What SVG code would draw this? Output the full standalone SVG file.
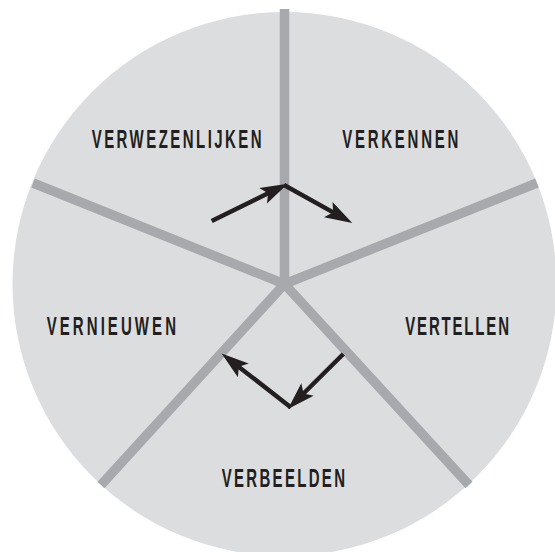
<svg xmlns="http://www.w3.org/2000/svg" width="555" height="552" viewBox="0 0 555 552">
<defs>
<style>
.spoke{stroke:#a7a9ac;stroke-width:9.5;fill:none;stroke-linecap:butt}
.arrow{stroke:#231f20;stroke-width:4.5;fill:none;stroke-linecap:butt;marker-end:url(#ah)}
.lbl{font-family:"Liberation Sans",Arial,sans-serif;font-weight:bold;font-size:25px;fill:#231f20}
</style>
<marker id="ah" markerUnits="userSpaceOnUse" markerWidth="30" markerHeight="20" viewBox="-2 -8 22 16" refX="0" refY="0" orient="auto" overflow="visible">
<path d="M13,0 L-9,-7 L-4.5,0 L-9,7 Z" fill="#231f20"/>
</marker>
</defs>
<rect width="555" height="552" fill="#ffffff"/>
<circle cx="284.5" cy="284" r="272" fill="#dcdddf"/>
<g id="connectors">
<g id="spokes">
<line class="spoke" x1="284.5" y1="284" x2="284.5" y2="9"/>
<line class="spoke" x1="284.5" y1="284" x2="33" y2="183"/>
<line class="spoke" x1="284.5" y1="284" x2="537" y2="183"/>
<line class="spoke" x1="284.5" y1="284" x2="101" y2="485"/>
<line class="spoke" x1="284.5" y1="284" x2="469" y2="485"/>
</g>
<g id="arrows">
<line class="arrow" x1="211.7" y1="221" x2="273.2" y2="190.8"/>
<line class="arrow" x1="284" y1="185" x2="338.1" y2="215.1"/>
<line class="arrow" x1="343.3" y1="354" x2="299.5" y2="397.5"/>
<line class="arrow" x1="291" y1="407.5" x2="234.4" y2="363.4"/>
</g>
</g>
<g transform="scale(0.6,1)">
<g id="verwezenlijken"><text class="lbl" x="152.8" y="147.8" textLength="283.3" lengthAdjust="spacing">VERWEZENLIJKEN</text></g>
<g id="verkennen"><text class="lbl" x="570.5" y="147.8" textLength="193.3" lengthAdjust="spacing">VERKENNEN</text></g>
<g id="vernieuwen"><text class="lbl" x="77.8" y="335.5" textLength="215.5" lengthAdjust="spacing">VERNIEUWEN</text></g>
<g id="vertellen"><text class="lbl" x="675.5" y="335.5" textLength="172.8" lengthAdjust="spacing">VERTELLEN</text></g>
<g id="verbeelden"><text class="lbl" x="369.5" y="487.5" textLength="205.5" lengthAdjust="spacing">VERBEELDEN</text></g>
</g>
</svg>
